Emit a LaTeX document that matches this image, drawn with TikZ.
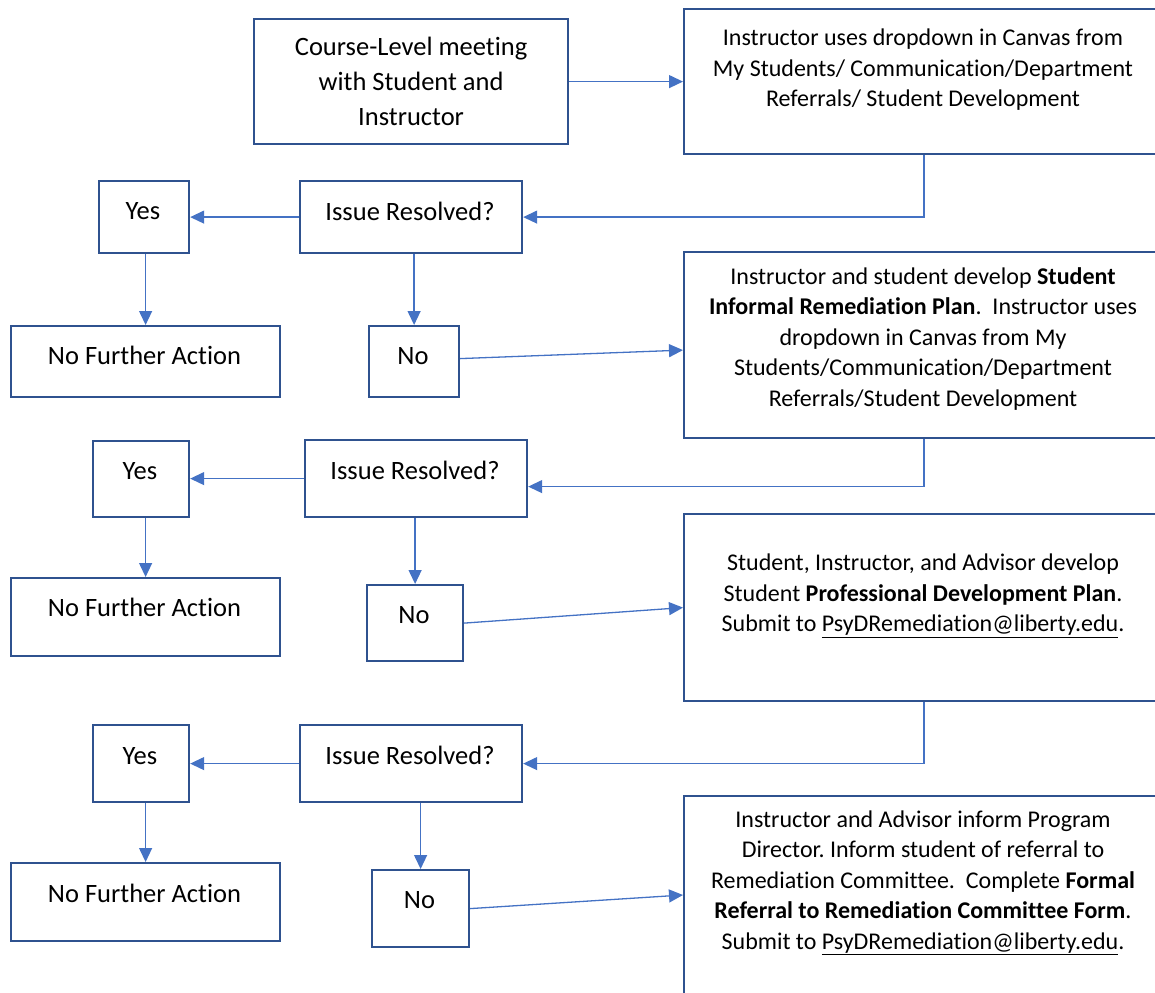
\documentclass[tikz,border=0pt]{standalone}
\usepackage{fontspec}
\setmainfont[RawFeature={-liga;-clig;-calt;-dlig}]{Carlito}
\usetikzlibrary{arrows.meta,calc}
\definecolor{boxblue}{HTML}{2F528F}
\definecolor{arrblue}{HTML}{4472C4}
\frenchspacing
\begin{document}
\begin{tikzpicture}[x=1pt,y=-1pt,
  box/.style={draw=boxblue, line width=2.2pt, rectangle, inner sep=0pt, anchor=north west},
  big/.style={font=\fontsize{26.5}{35}\selectfont, align=center, inner sep=0pt},
  small/.style={font=\fontsize{24}{30.5}\selectfont, align=center, inner sep=0pt},
  conn/.style={draw=arrblue, line width=1.3pt, -{Triangle[length=14pt,width=13pt]}}]
\useasboundingbox (0,0) rectangle (1155,992);

% top row
\node[box, big, minimum width=314pt, minimum height=125pt] (b1) at (253,18) {Course-Level meeting\\with Student and\\Instructor};
\node[box, minimum width=480pt, minimum height=145pt] (b2) at (683,8) {};
\node[small] (t2) at (923,70) {Instructor uses dropdown in Canvas from\\My Students/ Communication/Department\\Referrals/ Student Development};

% level 1
\node[box, minimum width=222pt, minimum height=72pt] (i1) at (299,180) {};
\node[big] (ti1) at (410,211) {Issue Resolved?};
\node[box, minimum width=90pt, minimum height=72pt] (y1) at (98,180) {};
\node[big] (ty1) at (143,211) {Yes};
\node[box, minimum width=269pt, minimum height=71pt] (n1) at (10,325) {};
\node[big] (tn1) at (144.5,355) {No Further Action};
\node[box, minimum width=90pt, minimum height=71pt] (no1) at (368,325) {};
\node[big] (tno1) at (413,356) {No};
\node[box, minimum width=480pt, minimum height=186pt] (b3) at (683,251) {};
\node[small] (t3) at (923,339) {Instructor and student develop \textbf{Student}\\\textbf{Informal Remediation Plan}.\ \ Instructor uses\\dropdown in Canvas from My\\Students/Communication/Department\\Referrals/Student Development};

% level 2
\node[box, minimum width=222pt, minimum height=77pt] (i2) at (304,439) {};
\node[big] (ti2) at (415,470) {Issue Resolved?};
\node[box, minimum width=96pt, minimum height=76pt] (y2) at (92,440) {};
\node[big] (ty2) at (140,471) {Yes};
\node[box, minimum width=269pt, minimum height=78pt] (n2) at (10,577) {};
\node[big] (tn2) at (144.5,607) {No Further Action};
\node[box, minimum width=96pt, minimum height=76pt] (no2) at (366,584) {};
\node[big] (tno2) at (414,615) {No};
\node[box, minimum width=480pt, minimum height=187pt] (b4) at (683,513) {};
\node[small] (t4) at (923,596) {Student, Instructor, and Advisor develop\\Student \textbf{Professional Development Plan}.\\Submit to \underline{PsyDRemediation@liberty.edu}.};

% level 3
\node[box, minimum width=222pt, minimum height=77pt] (i3) at (299,724) {};
\node[big] (ti3) at (410,755) {Issue Resolved?};
\node[box, minimum width=96pt, minimum height=77pt] (y3) at (92,724) {};
\node[big] (ty3) at (140,756) {Yes};
\node[box, minimum width=269pt, minimum height=78pt] (n3) at (10,862) {};
\node[big] (tn3) at (144.5,893) {No Further Action};
\node[box, minimum width=97pt, minimum height=77pt] (no3) at (371,869) {};
\node[big] (tno3) at (419.5,900) {No};
\node[box, minimum width=480pt, minimum height=240pt] (b5) at (683,795) {};
\node[small] (t5) at (923,883) {Instructor and Advisor inform Program\\Director. Inform student of referral to\\Remediation Committee.\ \ Complete \textbf{Formal}\\\textbf{Referral to Remediation Committee Form}.\\Submit to \underline{PsyDRemediation@liberty.edu}.};

% connectors
\draw[conn] (b1.east) -- (b1.east -| b2.west);
\draw[conn] (b2.south) |- (i1.east);
\draw[conn] (i1.west) -- (i1.west -| y1.east);
\draw[conn] (y1.south -| n1.north) -- (n1.north);
\draw[conn] (i1.south -| no1.north) -- (no1.north);
\draw[conn] ($(no1.east)+(0,-3)$) -- ($(b3.west)+(0,5)$);

\draw[conn] (b3.south) |- ($(i2.east)+(0,8)$);
\draw[conn] (i2.west) -- (i2.west -| y2.east);
\draw[conn] (y2.south -| n2.north) -- (n2.north);
\draw[conn] (i2.south -| no2.north) -- (no2.north);
\draw[conn] (no2.east) -- (b4.west);

\draw[conn] (b4.south) |- (i3.east);
\draw[conn] (i3.west) -- (i3.west -| y3.east);
\draw[conn] (y3.south -| n3.north) -- (n3.north);
\draw[conn] (i3.south -| no3.north) -- (no3.north);
\draw[conn] (no3.east) -- ($(b5.north west)+(0,100)$);
\end{tikzpicture}
\end{document}
